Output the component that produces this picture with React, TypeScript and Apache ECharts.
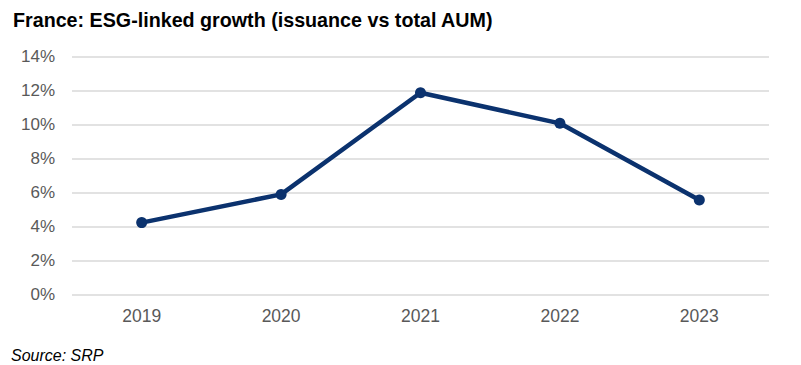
import React, { useEffect, useRef } from "react";
import * as echarts from "echarts";

const categories = ["2019", "2020", "2021", "2022", "2023"];
const growth = [4.24, 5.9, 11.88, 10.08, 5.57];
const yTicks = [0, 2, 4, 6, 8, 10, 12, 14];

const FONT = "'Liberation Sans', Arial, sans-serif";

export default function App() {
  const ref = useRef<HTMLDivElement>(null);
  useEffect(() => {
    if (!ref.current) return;
    const chart = echarts.init(ref.current, undefined, { renderer: "svg" });
    chart.setOption({
      animation: false,
      backgroundColor: "#ffffff",
      title: [
        {
          text: "France: ESG-linked growth (issuance vs total AUM)",
          left: 8,
          top: 5,
          textStyle: { fontFamily: FONT, fontSize: 19.7, fontWeight: "bold", color: "#000000" },
        },
        {
          text: "Source: SRP",
          left: 6,
          top: 342,
          textStyle: { fontFamily: FONT, fontSize: 16, fontStyle: "italic", fontWeight: "normal", color: "#000000" },
        },
      ],
      grid: { left: 72, right: 32, top: 56.7, bottom: 70.3, containLabel: false },
      xAxis: {
        type: "category",
        data: categories,
        boundaryGap: true,
        axisLine: { show: false },
        axisTick: { show: false },
        axisLabel: { fontFamily: FONT, fontSize: 17.5, color: "#595959", margin: 12 },
      },
      yAxis: {
        type: "value",
        min: yTicks[0],
        max: yTicks[yTicks.length - 1],
        interval: 2,
        axisLine: { show: false },
        axisTick: { show: false },
        axisLabel: { fontFamily: FONT, fontSize: 17, color: "#595959", margin: 17, formatter: "{value}%" },
        splitLine: { lineStyle: { color: "#d9d9d9", width: 1.5 } },
      },
      series: [
        {
          type: "line",
          data: growth,
          symbol: "circle",
          symbolSize: 11,
          lineStyle: { color: "#0b326e", width: 4.5 },
          itemStyle: { color: "#0b326e" },
        },
      ],
    });
    return () => chart.dispose();
  }, []);
  return <div ref={ref} style={{ width: 801, height: 365, position: "absolute", left: 0, top: 0 }} />;
}
